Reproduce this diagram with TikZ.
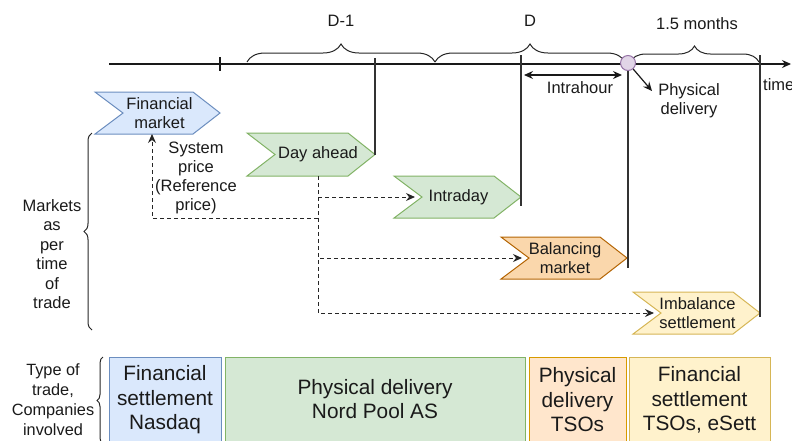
\documentclass[tikz,border=0pt]{standalone}
\usepackage{fontspec}
\setmainfont{Liberation Sans}
\usetikzlibrary{arrows.meta,decorations.pathreplacing,calc}
\definecolor{bfill}{HTML}{DAE8FC}\definecolor{bline}{HTML}{6C8EBF}
\definecolor{gfill}{HTML}{D5E8D4}\definecolor{gline}{HTML}{82B366}
\definecolor{ofill}{HTML}{FAD7AC}\definecolor{oline}{HTML}{B46504}
\definecolor{lofill}{HTML}{FFE6CC}\definecolor{loline}{HTML}{D79B00}
\definecolor{yfill}{HTML}{FFF2CC}\definecolor{yline}{HTML}{D6B656}
\definecolor{pfill}{HTML}{E1D5E7}\definecolor{pline}{HTML}{9673A6}
\definecolor{ink}{HTML}{1A1A1A}
% name, left x, tip x, top y, bottom y, style, text, text x offset
\newcommand{\chev}[8]{%
  \path[#6] (#2,#4) -- ({#3-27},#4) -- (#3,{(#4+#5)/2}) -- ({#3-27},#5) -- (#2,#5) -- ({#2+28},{(#4+#5)/2}) -- cycle;
  \node[lbl] (#1) at ({(#2+#3)/2+#8},{(#4+#5)/2}) {#7};
  \coordinate (#1-notch) at ({#2+28},{(#4+#5)/2});
  \coordinate (#1-tip) at (#3,{(#4+#5)/2});
}
\tikzset{
  lbl/.style={text=ink,font=\fontsize{16.5}{19}\selectfont,align=center,inner sep=0pt},
  big/.style={text=ink,font=\fontsize{20.8}{24.5}\selectfont,align=center,inner sep=0pt},
  vline/.style={draw=black!80,line width=1.2pt},
  dline/.style={draw=black!85,line width=1pt,dash pattern=on 4pt off 3pt},
  arr/.style={-{Stealth[length=9pt,width=8pt,inset=3pt]}},
  brc/.style={draw=black!85,line width=1pt,decorate,decoration={brace,amplitude=#1}},
  brc/.default=18pt,
  boxst/.style={line width=1pt},
}
\begin{document}
\begin{tikzpicture}[x=1pt,y=-1pt]
\useasboundingbox (0,0) rectangle (792,440);
\clip (0,0) rectangle (792,440);
% timeline
\draw[line width=1.2pt,arr,black!90] (109,64) -- (791,64);
\draw[line width=1.2pt,black!90] (220,57) -- (220,71);
\node[lbl,anchor=west] (time) at (763,85) {time};
% top braces
\draw[brc] (247,62) -- (435,62);
\draw[brc] (435,62) -- (625,62);
\draw[brc=16pt] (630,62) -- (759,62);
\node[lbl] (dm1) at (341,21) {D-1};
\node[lbl] (d) at (530,21) {D};
\node[lbl] (mon) at (697,24) {1.5 months};
% chevrons
\chev{fm}{95}{220}{92}{134}{fill=bfill,draw=bline,line width=1pt}{Financial\\market}{2}
\chev{da}{247}{375}{133}{176}{fill=gfill,draw=gline,line width=1pt}{Day ahead}{7}
\chev{id}{394}{521}{176}{218}{fill=gfill,draw=gline,line width=1pt}{Intraday}{1}
\chev{bm}{501}{627}{237}{279}{fill=ofill,draw=oline,line width=1pt}{Balancing\\market}{1}
\chev{is}{633}{760}{292}{334}{fill=yfill,draw=yline,line width=1pt}{Imbalance\\settlement}{1}
% vertical lines
\draw[vline] (375,58) -- (da-tip);
\draw[vline] (521,55) -- (521,206);
\draw[vline] (628,64) -- (628,268);
\draw[vline] (760,55) -- (760,317);
% delivery point
\node[circle,fill=pfill,draw=pline,line width=1pt,minimum size=15pt,inner sep=0pt] (pd) at (628,63) {};
\node[lbl] (pdl) at (689,101) {Physical\\delivery};
\draw[line width=1.2pt,arr,black!90] (pd) -- (652,91);
\draw[line width=1.2pt,black!90,{Stealth[length=9pt,width=8pt,inset=3pt]}-{Stealth[length=9pt,width=8pt,inset=3pt]}] (524,75) -- (622,75);
\node[lbl] (ih) at (580,88) {Intrahour};
% dashed connectors
\coordinate (dab) at (318,176);
\coordinate (ref) at (152,218);
\coordinate (fmb) at (152,134);
\draw[dline,arr] (dab) |- (ref) -- (fmb);
\draw[dline,arr,shorten >=7pt] (dab) |- (id-notch);
\draw[dline,arr,shorten >=7pt] (dab) |- (bm-notch);
\draw[dline,arr,shorten >=7pt] (dab) |- (is-notch);
\node[lbl] (sp) at (196,178) {System\\price\\(Reference\\price)};
% left brace markets
\draw[brc=8pt] (92,330) -- (92,133);
\node[lbl,font=\fontsize{16.5}{19.4}\selectfont] (mk) at (52,254) {Markets\\as\\per\\time\\of\\trade};
% bottom
\draw[brc=6pt] (103,444) -- (103,357);
\node[lbl,font=\fontsize{16.3}{20}\selectfont] (tt) at (53,400) {Type of\\trade,\\Companies\\involved};
\draw[boxst,fill=bfill,draw=bline] (109,357) rectangle (221,450);
\draw[boxst,fill=gfill,draw=gline] (225,357) rectangle (525,450);
\draw[boxst,fill=lofill,draw=loline] (529,357) rectangle (626,450);
\draw[boxst,fill=yfill,draw=yline] (629,357) rectangle (770,450);
\node[big] (b1) at (165,400) {Financial\\settlement\\Nasdaq};
\node[big] (b2) at (375,399) {Physical delivery\\Nord Pool AS};
\node[big] (b3) at (577.5,400) {Physical\\delivery\\TSOs};
\node[big] (b4) at (699.5,400) {Financial\\settlement\\TSOs, eSett};
\end{tikzpicture}
\end{document}
